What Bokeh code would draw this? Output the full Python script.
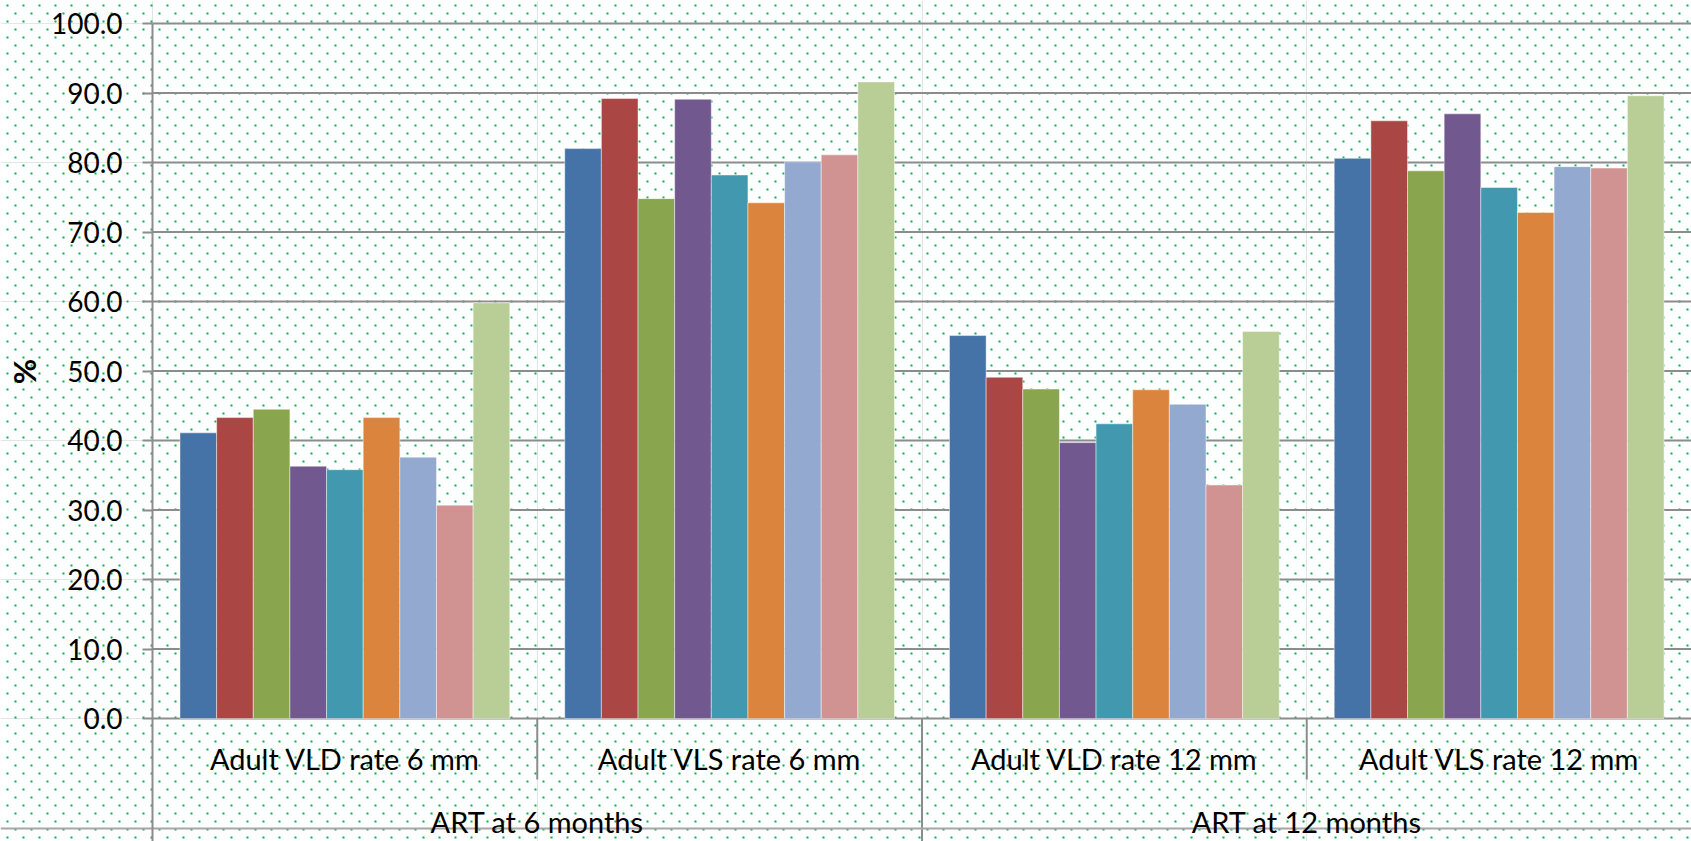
import numpy as np
from bokeh.plotting import figure
from bokeh.models import Range1d, LinearAxis, FixedTicker, NumeralTickFormatter
from bokeh.core.properties import value
from bokeh.embed import file_html
from bokeh.resources import INLINE

# ---- data -------------------------------------------------------------
categories = ["Adult VLD rate 6 mm", "Adult VLS rate 6 mm",
              "Adult VLD rate 12 mm", "Adult VLS rate 12 mm"]
groups = ["ART at 6 months", "ART at 12 months"]

series_1 = [41.1, 82.0, 55.1, 80.6]
series_2 = [43.3, 89.2, 49.1, 86.0]
series_3 = [44.5, 74.8, 47.4, 78.8]
series_4 = [36.3, 89.1, 39.7, 87.0]
series_5 = [35.8, 78.2, 42.4, 76.4]
series_6 = [43.3, 74.2, 47.3, 72.8]
series_7 = [37.6, 80.1, 45.2, 79.4]
series_8 = [30.7, 81.1, 33.6, 79.2]
series_9 = [59.8, 91.6, 55.7, 89.6]

y_ticks = [0, 10, 20, 30, 40, 50, 60, 70, 80, 90, 100]
y_title = "%"

# ---- styling ----------------------------------------------------------
series = [series_1, series_2, series_3, series_4, series_5,
          series_6, series_7, series_8, series_9]
colors = ["#4572A7", "#AA4643", "#89A54E", "#71588F", "#4198AF",
          "#DB843D", "#93A9CF", "#D19392", "#B9CD96"]
GRID = "#8c8c8c"
DOT = "#00B050"
FONT = "Lato"

W, H = 1691, 841
LEFT, TOP, ZERO = 152, 23, 718          # pixel positions of axis, 100 and 0
ux = (W - LEFT) / len(categories)       # pixels per category
uy = (ZERO - TOP) / 100.0               # pixels per percent

x_range = Range1d(-LEFT / ux, len(categories))
y_range = Range1d(-(H - ZERO) / uy, 100 + TOP / uy)

p = figure(width=W, height=H, x_range=x_range, y_range=y_range,
           x_axis_location=None, y_axis_location=None,
           toolbar_location=None, output_backend="svg", title=None,
           min_border=0, outline_line_color=None,
           background_fill_color="white", border_fill_color="white")

# pixel-space ranges for the decorative background and the label rows
p.extra_x_ranges = {"px": Range1d(0, W)}
p.extra_y_ranges = {"px": Range1d(H, 0)}

# staggered green dot fill across the whole chart area
xs, ys = [], []
for y0, x0 in ((13, 14), (5, 6)):
    for yy in range(y0, H + 8, 16):
        xs.append([x0, W + 16])
        ys.append([yy, yy])
p.multi_line(xs, ys, x_range_name="px", y_range_name="px",
             line_color=DOT, line_width=2, line_dash="2 14")

# horizontal gridlines
n = len(categories)
p.segment(x0=[0] * len(y_ticks), y0=y_ticks, x1=[n] * len(y_ticks), y1=y_ticks,
          line_color=GRID, line_width=2)

# clustered bars
k = len(series)
bw = 1.0 / (k + 1.5)
centers = np.arange(n) + 0.5
for i, (vals, c) in enumerate(zip(series, colors)):
    p.vbar(x=centers + (i - (k - 1) / 2) * bw, top=vals, bottom=0, width=bw,
           fill_color=c, line_color="white", line_alpha=0.45, line_width=1)

# value axis
yaxis = LinearAxis(fixed_location=0, ticker=FixedTicker(ticks=y_ticks),
                   formatter=NumeralTickFormatter(format="0.0"),
                   bounds=(y_range.start, 100),
                   axis_line_color=GRID, axis_line_width=2,
                   major_tick_out=10, major_tick_in=0,
                   major_tick_line_color=GRID, major_tick_line_width=2,
                   minor_tick_out=0, minor_tick_in=0,
                   major_label_standoff=20,
                   major_label_text_font=FONT,
                   major_label_text_font_size="28px",
                   major_label_text_color="black")
p.add_layout(yaxis, "left")

# category axis: dividers, baseline row and labels
p.segment(x0=[1, 3], y0=[ZERO, ZERO], x1=[1, 3], y1=[779, 779],
          y_range_name="px", line_color=GRID, line_width=2)
p.segment(x0=[2], y0=[ZERO], x1=[2], y1=[H], y_range_name="px",
          line_color=GRID, line_width=2)
p.segment(x0=[0], y0=[828], x1=[W], y1=[828], x_range_name="px",
          y_range_name="px", line_color="#a6a6a6", line_width=2)

p.text(x=centers, y=[758] * n, text=categories, y_range_name="px",
       text_align="center", text_baseline="middle",
       text_font=value(FONT), text_font_size=value("29px"), text_color="black")
p.text(x=[1, 3], y=[821, 821], text=groups, y_range_name="px",
       text_align="center", text_baseline="middle",
       text_font=value(FONT), text_font_size=value("29px"), text_color="black")

# rotated value-axis title
p.text(x=[23], y=[371], text=[y_title], x_range_name="px", y_range_name="px",
       angle=np.pi / 2, text_align="center", text_baseline="middle",
       text_font=value(FONT), text_font_style="bold",
       text_font_size=value("31px"), text_color="black")

open("out.html", "w").write(file_html(p, INLINE))
